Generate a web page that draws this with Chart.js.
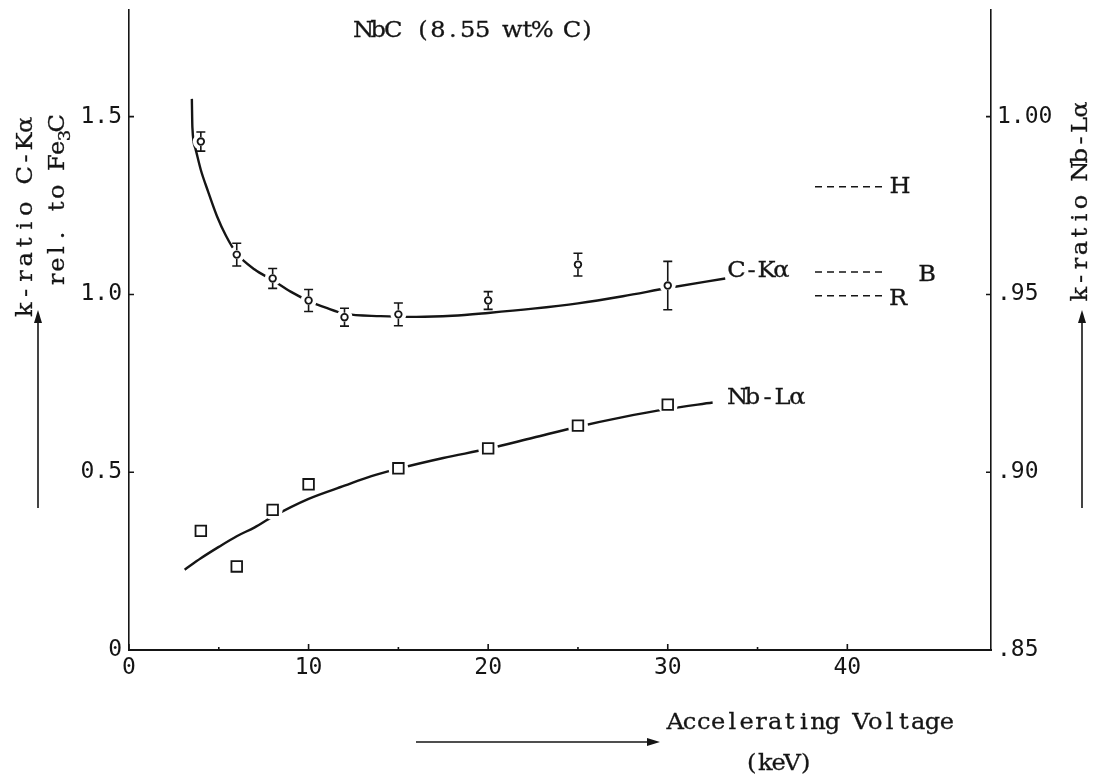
<!DOCTYPE html>
<html>
<head>
<meta charset="utf-8">
<title>NbC k-ratio vs accelerating voltage</title>
<script src="https://cdn.jsdelivr.net/npm/chart.js@4.4.1/dist/chart.umd.min.js"></script>
<style>
  html, body { margin: 0; padding: 0; background: #fff; }
</style>
</head>
<body>
<canvas id="myChart" width="1107" height="784"></canvas>
<script>
// Measured points, C-Ka (left axis, rel. to Fe3C)
const cVolts = [4, 6, 8, 10, 12, 15, 20, 25, 30];
const cKratio = [1.430, 1.112, 1.045, 0.983, 0.936, 0.944, 0.983, 1.084, 1.025];
const cError = [0.027, 0.032, 0.028, 0.031, 0.025, 0.032, 0.025, 0.032, 0.068];

// Measured points, Nb-La (right axis)
const nbVolts = [4, 6, 8, 10, 15, 20, 25, 30];
const nbKratio = [0.8835, 0.8735, 0.8894, 0.8966, 0.9011, 0.9067, 0.9131, 0.9190];

// Hand drawn curves through the points
const cFitVolts = [3.5, 3.53, 3.7, 4.0, 4.4, 4.9, 5.4, 6, 7, 8, 9, 10, 11, 12, 14, 16, 18, 20, 22.5, 25, 27.5, 30, 33.2];
const cFitKratio = [1.55, 1.47, 1.41, 1.35, 1.29, 1.22, 1.165, 1.115, 1.07, 1.04, 1.008, 0.982, 0.962, 0.946, 0.939, 0.937, 0.94, 0.948, 0.96, 0.975, 0.995, 1.018, 1.045];
const nbFitVolts = [3.1, 4, 5, 6, 7, 8, 10, 12, 13.5, 15, 17.5, 20, 22.5, 25, 27.5, 30, 32.5];
const nbFitKratio = [0.8726, 0.8758, 0.879, 0.882, 0.8845, 0.8875, 0.8925, 0.8962, 0.8989, 0.901, 0.904, 0.9066, 0.9097, 0.9128, 0.9155, 0.9178, 0.9196];

// Calculated C-Ka values (dashed marks at the right)
const refLabels = ['H', 'B', 'R'];
const refKratio = [1.303, 1.063, 0.996];
const refVoltRange = [38.2, 42.1];

// Axis ticks
const xTickValues = [0, 10, 20, 30, 40];
const xMinorTicks = [5, 15, 25, 35];
const yTickValues = [0, 0.5, 1.0, 1.5];
const yTickLabels = ['0', '0.5', '1.0', '1.5'];
const y2TickValues = [0.85, 0.90, 0.95, 1.00];
const y2TickLabels = ['.85', '.90', '.95', '1.00'];

const ink = '#151515';
const typeFont = '23px "DejaVu Serif", serif';
const subFont = '17px "DejaVu Serif", serif';
const tickFont = { family: '"DejaVu Sans Mono", monospace', size: 23 };

function pts(xs, ys) {
  return xs.map((v, i) => ({ x: v, y: ys[i] }));
}

// typewriter look: every character sits in a cell of the same width
function typeText(ctx, str, x, y, pitch) {
  const chars = Array.from(str);
  ctx.textAlign = 'center';
  ctx.lineWidth = 0.3;
  chars.forEach((ch, i) => {
    ctx.save();
    ctx.translate(x + (i + 0.5) * pitch, y);
    ctx.scale(1.05, 1);
    ctx.fillText(ch, 0, 0);
    ctx.strokeText(ch, 0, 0);
    ctx.restore();
  });
  return chars.length * pitch;
}

function arrow(ctx, x1, y1, x2, y2) {
  const a = Math.atan2(y2 - y1, x2 - x1);
  ctx.beginPath();
  ctx.moveTo(x1, y1);
  ctx.lineTo(x2 - 8 * Math.cos(a), y2 - 8 * Math.sin(a));
  ctx.stroke();
  ctx.beginPath();
  ctx.moveTo(x2, y2);
  ctx.lineTo(x2 - 13 * Math.cos(a) + 4 * Math.sin(a), y2 - 13 * Math.sin(a) - 4 * Math.cos(a));
  ctx.lineTo(x2 - 13 * Math.cos(a) - 4 * Math.sin(a), y2 - 13 * Math.sin(a) + 4 * Math.cos(a));
  ctx.closePath();
  ctx.fill();
}

const paperPlugin = {
  id: 'paper',
  afterDatasetsDraw(chart) {
    // error bars on C-Ka points
    const ctx = chart.ctx, x = chart.scales.x, y = chart.scales.y;
    ctx.save();
    ctx.strokeStyle = ink;
    ctx.lineWidth = 1.6;
    cVolts.forEach((v, i) => {
      const px = x.getPixelForValue(v);
      const py = y.getPixelForValue(cKratio[i]);
      const top = y.getPixelForValue(cKratio[i] + cError[i]);
      const bot = y.getPixelForValue(cKratio[i] - cError[i]);
      ctx.beginPath();
      ctx.moveTo(px, top); ctx.lineTo(px, py - 4.5);
      ctx.moveTo(px, py + 4.5); ctx.lineTo(px, bot);
      ctx.moveTo(px - 4.5, top); ctx.lineTo(px + 4.5, top);
      ctx.moveTo(px - 4.5, bot); ctx.lineTo(px + 4.5, bot);
      ctx.stroke();
    });
    ctx.restore();
  },
  afterDraw(chart) {
    const ctx = chart.ctx, x = chart.scales.x, y = chart.scales.y, y2 = chart.scales.y2;
    const area = chart.chartArea;
    ctx.save();
    ctx.strokeStyle = ink;
    ctx.fillStyle = ink;

    // inward tick marks
    ctx.lineWidth = 1.6;
    ctx.beginPath();
    xTickValues.forEach(v => {
      const px = x.getPixelForValue(v);
      ctx.moveTo(px, area.bottom); ctx.lineTo(px, area.bottom - 6);
    });
    xMinorTicks.forEach(v => {
      const px = x.getPixelForValue(v);
      ctx.moveTo(px, area.bottom); ctx.lineTo(px, area.bottom - 3);
    });
    yTickValues.forEach(v => {
      const py = y.getPixelForValue(v);
      ctx.moveTo(area.left, py); ctx.lineTo(area.left + 5, py);
    });
    y2TickValues.forEach(v => {
      const py = y2.getPixelForValue(v);
      ctx.moveTo(area.right, py); ctx.lineTo(area.right - 5, py);
    });
    ctx.stroke();

    ctx.textBaseline = 'middle';
    ctx.font = typeFont;

    // title inside the plot
    typeText(ctx, 'NbC (8.55 wt% C)', 356, 31, 14.9);

    // curve labels
    typeText(ctx, 'C-K\u03b1', 729, y.getPixelForValue(1.067), 15);
    typeText(ctx, 'Nb-L\u03b1', 730, y2.getPixelForValue(0.9209), 15);

    // labels of the dashed marks
    const refLabelX = [900, 927, 898];
    const refLabelDy = [0, 3, 3];
    refLabels.forEach((t, i) => {
      typeText(ctx, t, refLabelX[i] - 7, y.getPixelForValue(refKratio[i]) + refLabelDy[i], 14);
    });

    // left axis title, rotated, two lines
    ctx.save();
    ctx.translate(26, 116);
    ctx.rotate(-Math.PI / 2);
    typeText(ctx, 'k-ratio C-K\u03b1', -202, 0, 16.8);
    ctx.restore();

    ctx.save();
    ctx.translate(58, 116);
    ctx.rotate(-Math.PI / 2);
    const start = -(10 * 14.6 + 10 + 14.6);
    typeText(ctx, 'rel. to Fe', start, 0, 14.6);
    ctx.font = subFont;
    typeText(ctx, '3', start + 146, 8, 10);
    ctx.font = typeFont;
    typeText(ctx, 'C', start + 156, 0, 14.6);
    ctx.restore();

    // right axis title
    ctx.save();
    ctx.translate(1081, 102);
    ctx.rotate(-Math.PI / 2);
    typeText(ctx, 'k-ratio Nb-L\u03b1', -200, 0, 15.4);
    ctx.restore();

    // x axis title
    typeText(ctx, 'Accelerating Voltage', 668, 723, 14.3);
    typeText(ctx, '(keV)', 745, 764, 13.5);

    // arrows
    ctx.lineWidth = 1.6;
    arrow(ctx, 38, 508, 38, 310);
    arrow(ctx, 1082, 508, 1082, 310);
    arrow(ctx, 416, 742, 660, 742);

    ctx.restore();
  }
};

const datasets = [
  {
    label: 'C-K\u03b1',
    data: pts(cVolts, cKratio),
    yAxisID: 'y',
    pointStyle: 'circle',
    pointRadius: 3.3,
    pointBorderWidth: 1.8,
    pointBackgroundColor: '#fff',
    pointBorderColor: ink,
    showLine: false,
    order: 0
  },
  {
    label: 'Nb-L\u03b1',
    data: pts(nbVolts, nbKratio),
    yAxisID: 'y2',
    pointStyle: 'rect',
    pointRadius: 7.5,
    pointBorderWidth: 1.8,
    pointBackgroundColor: '#fff',
    pointBorderColor: ink,
    showLine: false,
    order: 0
  },
  {
    // white halos cut the curves around the points
    label: 'gap C',
    data: pts(cVolts, cKratio),
    yAxisID: 'y',
    pointRadius: 8,
    pointBorderWidth: 0,
    pointBackgroundColor: '#fff',
    showLine: false,
    order: 1
  },
  {
    label: 'gap Nb',
    data: pts(nbVolts, nbKratio),
    yAxisID: 'y2',
    pointRadius: 10,
    pointBorderWidth: 0,
    pointBackgroundColor: '#fff',
    showLine: false,
    order: 1
  },
  {
    label: 'C-K\u03b1 curve',
    data: pts(cFitVolts, cFitKratio),
    yAxisID: 'y',
    showLine: true,
    cubicInterpolationMode: 'monotone',
    borderColor: ink,
    borderWidth: 2.4,
    pointRadius: 0,
    order: 2
  },
  {
    label: 'Nb-L\u03b1 curve',
    data: pts(nbFitVolts, nbFitKratio),
    yAxisID: 'y2',
    showLine: true,
    cubicInterpolationMode: 'monotone',
    borderColor: ink,
    borderWidth: 2.4,
    pointRadius: 0,
    order: 2
  }
];

refKratio.forEach((k, i) => {
  datasets.push({
    label: refLabels[i],
    data: refVoltRange.map(v => ({ x: v, y: k })),
    yAxisID: 'y',
    showLine: true,
    borderColor: ink,
    borderWidth: 1.5,
    borderDash: [7, 5],
    pointRadius: 0,
    order: 2
  });
});

const myChart = new Chart(document.getElementById('myChart'), {
  type: 'scatter',
  data: { datasets: datasets },
  options: {
    responsive: false,
    devicePixelRatio: 1,
    animation: false,
    events: [],
    layout: { padding: { top: 6, left: 0, right: 0, bottom: 0 } },
    plugins: {
      legend: { display: false },
      tooltip: { enabled: false },
      title: { display: false }
    },
    scales: {
      x: {
        type: 'linear',
        position: 'bottom',
        min: 0,
        max: 48,
        grid: { display: false, drawTicks: false },
        border: { display: true, color: ink, width: 2 },
        afterBuildTicks: s => { s.ticks = xTickValues.map(v => ({ value: v })); },
        afterFit: s => { s.height = 134; s.paddingLeft = 0; s.paddingRight = 0; },
        ticks: { font: tickFont, color: ink, padding: 4, maxRotation: 0 }
      },
      y: {
        type: 'linear',
        position: 'left',
        min: 0,
        max: 1.8,
        grid: { display: false, drawTicks: false },
        border: { display: true, color: ink, width: 1.6 },
        afterBuildTicks: s => { s.ticks = yTickValues.map(v => ({ value: v })); },
        afterFit: s => { s.width = 129; s.paddingTop = 0; s.paddingBottom = 0; },
        ticks: {
          font: tickFont, color: ink, padding: 7,
          callback: (v) => yTickLabels[yTickValues.indexOf(v)]
        }
      },
      y2: {
        type: 'linear',
        position: 'right',
        min: 0.85,
        max: 1.03,
        grid: { display: false, drawTicks: false },
        border: { display: true, color: ink, width: 1.6 },
        afterBuildTicks: s => { s.ticks = y2TickValues.map(v => ({ value: v })); },
        afterFit: s => { s.width = 116; s.paddingTop = 0; s.paddingBottom = 0; },
        ticks: {
          font: tickFont, color: ink, padding: 6,
          callback: (v) => y2TickLabels[y2TickValues.indexOf(v)]
        }
      }
    }
  },
  plugins: [paperPlugin]
});
</script>
</body>
</html>
